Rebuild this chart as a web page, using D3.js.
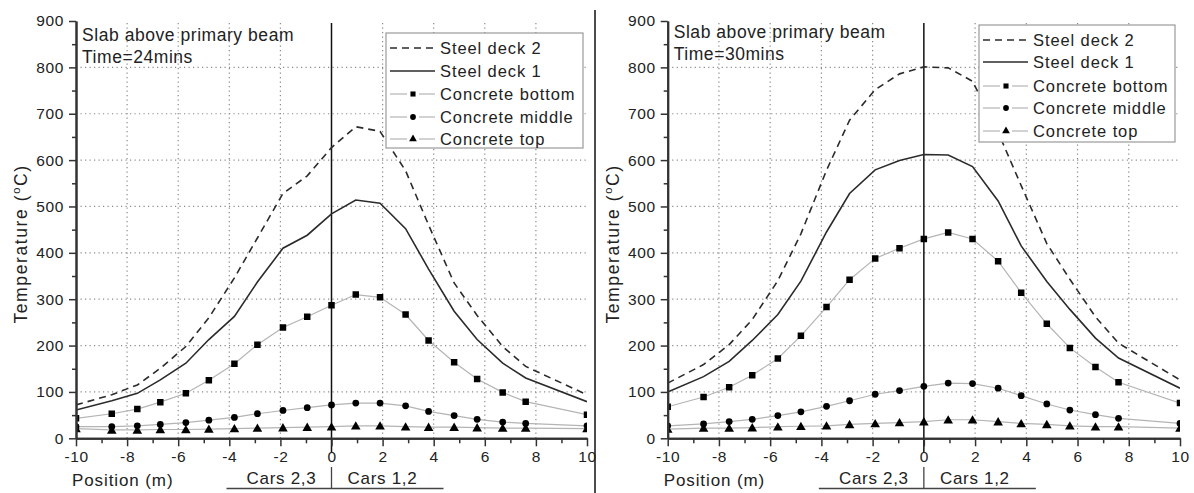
<!DOCTYPE html>
<html>
<head>
<meta charset="utf-8">
<script src="https://cdn.jsdelivr.net/npm/d3@7"></script>
<style>
  html, body { margin: 0; padding: 0; background: #fff; }
  svg { display: block; }
  text { font-family: "Liberation Sans", Arial, sans-serif; fill: #222; }
</style>
</head>
<body>
<svg id="chart" width="1194" height="493"></svg>
<script>
// Positions along the slab (m) where temperatures were recorded
const position = [-10, -8.6, -7.6, -6.7, -5.7, -4.8, -3.8, -2.9, -1.9, -0.95, 0, 0.95, 1.9, 2.9, 3.8, 4.8, 5.7, 6.7, 7.6, 10];

// Time = 24 mins
const steelDeck2_24 = [72, 94, 115, 151, 198, 260, 346, 432, 528, 566, 627, 672, 662, 577, 460, 335, 265, 198, 155, 94];
const steelDeck1_24 = [61, 81, 97, 126, 162, 213, 263, 337, 410, 438, 484, 514, 507, 452, 365, 274, 213, 162, 130, 79];
const concreteBottom_24 = [43, 53, 63, 78, 97, 125, 161, 202, 239, 262, 287, 310, 304, 267, 211, 164, 128, 99, 79, 51];
const concreteMiddle_24 = [25, 25, 27, 30, 34, 39, 45, 53, 60, 66, 72, 76, 76, 70, 58, 49, 41, 35, 32, 27];
const concreteTop_24 = [21, 18, 18, 19, 19, 20, 21, 22, 23, 24, 25, 27, 27, 25, 24, 24, 23, 22, 22, 21];

// Time = 30 mins
const steelDeck2_30 = [119, 159, 202, 256, 340, 441, 578, 686, 752, 786, 801, 799, 770, 660, 545, 420, 343, 262, 205, 126];
const steelDeck1_30 = [100, 133, 166, 211, 267, 339, 445, 528, 579, 599, 612, 611, 586, 512, 415, 338, 278, 216, 173, 108];
const concreteBottom_30 = [68, 89, 110, 136, 172, 221, 283, 342, 388, 410, 430, 444, 430, 382, 314, 247, 195, 154, 121, 76];
const concreteMiddle_30 = [27, 31, 36, 41, 49, 57, 69, 81, 95, 103, 112, 119, 118, 108, 92, 74, 61, 51, 43, 32];
const concreteTop_30 = [20, 22, 22, 23, 25, 26, 27, 30, 32, 34, 36, 40, 40, 36, 32, 30, 27, 25, 25, 22];

// Axis ticks and labels
const xMajorTicks = [-10, -8, -6, -4, -2, 0, 2, 4, 6, 8, 10];
const xMinorTicks = [-9, -7, -5, -3, -1, 1, 3, 5, 7, 9];
const yMajorTicks = [0, 100, 200, 300, 400, 500, 600, 700, 800, 900];
const yMinorTicks = [50, 150, 250, 350, 450, 550, 650, 750, 850];
const xGrid = [-8, -6, -4, -2, 2, 4, 6, 8];
const yGrid = [100, 200, 300, 400, 500, 600, 700, 800];

const seriesNames = ["Steel deck 2", "Steel deck 1", "Concrete bottom", "Concrete middle", "Concrete top"];
const seriesKind = ["dashed", "solid", "square", "circle", "triangle"];
const carsLabels = ["Cars 2,3", "Cars 1,2"];
const panelTitle = "Slab above primary beam";
const timeLabels = ["Time=24mins", "Time=30mins"];

const panels = [
  {
    id: "p24",
    x0: 76, x1: 587,
    time: timeLabels[0],
    series: [steelDeck2_24, steelDeck1_24, concreteBottom_24, concreteMiddle_24, concreteTop_24],
    legend: { x: 386, y: 33, w: 197, h: 115, rowY: [48, 71, 94, 117, 139] },
    titleY: 41
  },
  {
    id: "p30",
    x0: 667.7, x1: 1180,
    time: timeLabels[1],
    series: [steelDeck2_30, steelDeck1_30, concreteBottom_30, concreteMiddle_30, concreteTop_30],
    legend: { x: 979, y: 25, w: 196, h: 117, rowY: [40, 62, 86, 108, 131] },
    titleY: 38
  }
];

const svg = d3.select("#chart");
const yTop = 21, yBottom = 438.3;
const ink = "#2b2b2b";
const concreteInk = "#b4b4b4";

// Vertical divider between the two panels
svg.append("line")
  .attr("x1", 595).attr("x2", 595).attr("y1", 10).attr("y2", 493)
  .attr("stroke", "#111").attr("stroke-width", 1.5);

const symbolType = { square: d3.symbolSquare, circle: d3.symbolCircle, triangle: d3.symbolTriangle };
const symbolSize = { square: 42, circle: 36, triangle: 40 };

panels.forEach(p => {
  const x = d3.scaleLinear().domain([-10, 10]).range([p.x0, p.x1]);
  const y = d3.scaleLinear().domain([0, 900]).range([yBottom, yTop]);
  const g = svg.append("g");

  // clip region for the plotted data
  g.append("clipPath").attr("id", "clip-" + p.id)
    .append("rect")
    .attr("x", x(-10)).attr("y", y(900))
    .attr("width", x(10) - x(-10)).attr("height", y(0) - y(900));

  // dotted grid
  const grid = g.append("g").attr("stroke", "#8a8a8a").attr("stroke-width", 1.2)
    .attr("stroke-dasharray", "1.2,3.3");
  grid.selectAll("line.h").data(yGrid).join("line").attr("class", "h")
    .attr("x1", x(-10)).attr("x2", x(10))
    .attr("y1", d => y(d)).attr("y2", d => y(d));
  grid.selectAll("line.v").data(xGrid).join("line").attr("class", "v")
    .attr("x1", d => x(d)).attr("x2", d => x(d))
    .attr("y1", y(900) + 2).attr("y2", y(0));

  // solid line at position 0, continuing below the axis
  g.append("line")
    .attr("x1", x(0)).attr("x2", x(0))
    .attr("y1", y(900) + 2).attr("y2", y(0) + 14)
    .attr("stroke", "#111").attr("stroke-width", 1.5);

  const data = g.append("g").attr("clip-path", "url(#clip-" + p.id + ")");
  const line = d3.line().x((d, i) => x(position[i])).y(d => y(d));

  // concrete series: thin grey lines with black markers
  [2, 3, 4].forEach(k => {
    data.append("path").datum(p.series[k])
      .attr("d", line).attr("fill", "none")
      .attr("stroke", concreteInk).attr("stroke-width", 1.2);
  });
  [2, 3, 4].forEach(k => {
    const kind = seriesKind[k];
    const sym = d3.symbol().type(symbolType[kind]).size(symbolSize[kind]);
    data.selectAll("path.m" + k).data(p.series[k]).join("path")
      .attr("class", "m" + k)
      .attr("d", sym)
      .attr("transform", (d, i) => `translate(${x(position[i])},${y(d) + (kind === "triangle" ? 1 : 0)})`)
      .attr("fill", "#000");
  });

  // steel deck series
  data.append("path").datum(p.series[0])
    .attr("d", line).attr("fill", "none")
    .attr("stroke", ink).attr("stroke-width", 1.6).attr("stroke-dasharray", "7,5");
  data.append("path").datum(p.series[1])
    .attr("d", line).attr("fill", "none")
    .attr("stroke", ink).attr("stroke-width", 1.6);

  // axes
  const axisStyle = sel => {
    sel.select(".domain").attr("stroke", "#333").attr("stroke-width", 2);
    sel.selectAll(".tick line").attr("stroke", "#333").attr("stroke-width", 1.5);
    sel.selectAll(".tick text")
      .style("font-family", '"Liberation Sans", Arial, sans-serif')
      .style("font-size", "15.5px").style("letter-spacing", "0.6px").attr("fill", "#333");
  };
  const plainNumber = d => String(d);
  g.append("g").attr("transform", `translate(0,${y(0)})`)
    .call(d3.axisBottom(x).tickValues(xMinorTicks).tickSize(5).tickFormat("").tickSizeOuter(0))
    .call(axisStyle);
  g.append("g").attr("transform", `translate(0,${y(0)})`)
    .call(d3.axisBottom(x).tickValues(xMajorTicks).tickSize(8).tickPadding(5).tickSizeOuter(0).tickFormat(plainNumber))
    .call(axisStyle);
  g.append("g").attr("transform", `translate(${x(-10)},0)`)
    .call(d3.axisLeft(y).tickValues(yMinorTicks).tickSize(4).tickFormat("").tickSizeOuter(0))
    .call(axisStyle);
  g.append("g").attr("transform", `translate(${x(-10)},0)`)
    .call(d3.axisLeft(y).tickValues(yMajorTicks).tickSize(7).tickPadding(5).tickSizeOuter(0).tickFormat(plainNumber))
    .call(axisStyle);

  // axis titles
  g.append("text")
    .attr("x", x(-10) - 4).attr("y", 486)
    .style("font-size", "17px").style("letter-spacing", "0.9px")
    .text("Position (m)");
  const yl = g.append("text")
    .attr("transform", `translate(${x(-10) - 49},244) rotate(-90)`)
    .attr("text-anchor", "middle")
    .style("font-size", "17.5px").style("letter-spacing", "1.6px");
  yl.append("tspan").text("Temperature (");
  yl.append("tspan").attr("dy", -7).style("font-size", "11px").text("o");
  yl.append("tspan").attr("dy", 7).text("C)");

  // panel annotation
  g.append("text").attr("x", x(-10) + 6).attr("y", p.titleY)
    .style("font-size", "17.5px").style("letter-spacing", "0.55px").text(panelTitle);
  g.append("text").attr("x", x(-10) + 6).attr("y", p.titleY + 22)
    .style("font-size", "17.5px").style("letter-spacing", "0.55px").text(p.time);

  // car groups under the axis
  const zx = x(0);
  g.append("line").attr("x1", zx - 105).attr("x2", zx + 112).attr("y1", 488.5).attr("y2", 488.5)
    .attr("stroke", "#444").attr("stroke-width", 1.3);
  g.append("line").attr("x1", zx).attr("x2", zx).attr("y1", 467).attr("y2", 489)
    .attr("stroke", "#444").attr("stroke-width", 1.3);
  g.append("text").attr("x", zx - 50).attr("y", 484).attr("text-anchor", "middle")
    .style("font-size", "17px").style("letter-spacing", "0.7px").text(carsLabels[0]);
  g.append("text").attr("x", zx + 51).attr("y", 484).attr("text-anchor", "middle")
    .style("font-size", "17px").style("letter-spacing", "0.7px").text(carsLabels[1]);

  // legend
  const L = p.legend;
  const lg = g.append("g");
  lg.append("rect").attr("x", L.x).attr("y", L.y).attr("width", L.w).attr("height", L.h)
    .attr("fill", "#fff").attr("stroke", "#9a9a9a").attr("stroke-width", 1.2);
  seriesNames.forEach((name, k) => {
    const ry = L.rowY[k];
    const lx0 = L.x + 4, lx1 = L.x + 49, mx = L.x + 27;
    const kind = seriesKind[k];
    if (kind === "dashed" || kind === "solid") {
      lg.append("line").attr("x1", lx0).attr("x2", lx1).attr("y1", ry).attr("y2", ry)
        .attr("stroke", ink).attr("stroke-width", 1.6)
        .attr("stroke-dasharray", kind === "dashed" ? "7,5" : null);
    } else {
      lg.append("line").attr("x1", lx0).attr("x2", mx - 6).attr("y1", ry).attr("y2", ry)
        .attr("stroke", concreteInk).attr("stroke-width", 1.2);
      lg.append("line").attr("x1", mx + 6).attr("x2", lx1).attr("y1", ry).attr("y2", ry)
        .attr("stroke", concreteInk).attr("stroke-width", 1.2);
      lg.append("path")
        .attr("d", d3.symbol().type(symbolType[kind]).size(26))
        .attr("transform", `translate(${mx},${ry})`).attr("fill", "#000");
    }
    lg.append("text").attr("x", L.x + 54).attr("y", ry + 6)
      .style("font-size", "16.5px").style("letter-spacing", "0.9px").text(name);
  });
});
</script>
</body>
</html>
